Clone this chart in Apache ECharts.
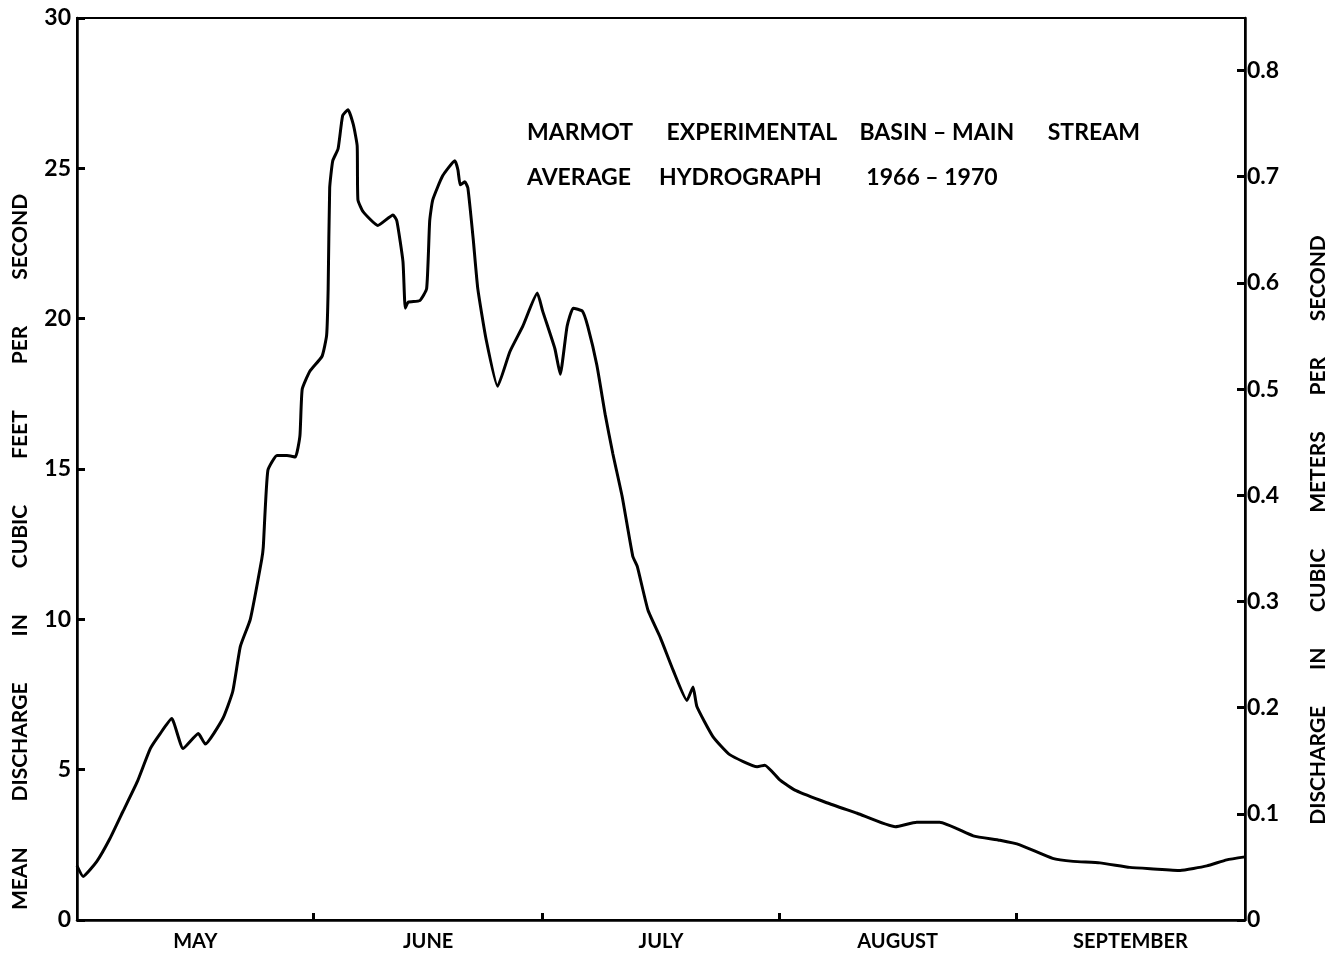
<!DOCTYPE html>
<html>
<head>
<meta charset="utf-8">
<script src="https://cdn.jsdelivr.net/npm/echarts@6/dist/echarts.min.js"></script>
<style>
  html, body { margin: 0; padding: 0; background: #fff; }
  #chart { width: 1340px; height: 966px; }
</style>
</head>
<body>
<div id="chart"></div>
<script>
// day counted from May 1 (0) to end of September (153)
const days = [0, 0.8, 2.6, 4.3, 6.0, 7.9, 9.6, 10.9, 12.4, 13.9, 15.9, 16.8, 19.1, 20.4, 21.4, 22.7, 24.2, 24.4,
  25.0, 26.2, 27.5, 28.6, 29.2, 29.5, 30.5, 32.1, 32.7, 32.9, 33.1, 33.5, 34.2, 34.8, 35.5, 36.2, 36.7, 36.8,
  37.5, 39.4, 41.4, 41.9, 42.7, 43.0, 43.4, 44.9, 45.8, 46.2, 46.6, 47.9, 49.5, 49.9, 50.2, 50.8, 51.2, 51.9,
  52.5, 53.6, 55.1, 56.7, 58.4, 60.3, 61.0, 62.6, 63.3, 64.2, 65.0, 66.2, 66.9, 68.1, 69.2, 70.2, 71.4, 72.8,
  73.4, 74.8, 76.4, 78.1, 79.9, 80.7, 81.2, 83.3, 85.5, 89.1, 90.1, 92.1, 94.2, 98.2, 102.2, 107.2, 110.0,
  113.0, 117.4, 120.9, 123.5, 127.8, 130.5, 134.0, 137.9, 141.0, 144.5, 148.0, 150.6, 153.0];
const cfs = [1.8, 1.45, 1.95, 2.7, 3.6, 4.6, 5.7, 6.2, 6.7, 5.7, 6.2, 5.85, 6.7, 7.6, 9.1, 10.0, 12.0, 12.4,
  14.95, 15.45, 15.45, 15.4, 16.1, 17.65, 18.25, 18.75, 19.45, 21.0, 24.35, 25.25, 25.65, 26.75, 26.95, 26.45, 25.75, 23.95,
  23.55, 23.1, 23.45, 23.25, 21.9, 20.35, 20.55, 20.6, 21.0, 23.25, 23.95, 24.75, 25.25, 24.95, 24.45, 24.55, 24.35, 22.65,
  21.0, 19.3, 17.75, 18.9, 19.75, 20.85, 20.25, 19.0, 18.15, 19.75, 20.35, 20.25, 19.75, 18.45, 16.8, 15.5, 14.1, 12.1,
  11.75, 10.3, 9.4, 8.3, 7.3, 7.75, 7.1, 6.1, 5.5, 5.1, 5.15, 4.65, 4.3, 3.9, 3.55, 3.1, 3.25,
  3.25, 2.8, 2.65, 2.5, 2.05, 1.95, 1.9, 1.75, 1.7, 1.65, 1.8, 2.0, 2.1];
const months = ['MAY', 'JUNE', 'JULY', 'AUGUST', 'SEPTEMBER'];
const monthLengths = [31, 30, 31, 31, 30];
const cfsMax = 30;
const cfsToCms = 0.0283168;

const monthEnds = [];
const monthMids = [];
let acc = 0;
monthLengths.forEach(function (n) {
  monthMids.push(acc + n / 2);
  acc += n;
  monthEnds.push(acc);
});

const font = 'Lato, "DejaVu Sans", sans-serif';
const chart = echarts.init(document.getElementById('chart'));

chart.setOption({
  backgroundColor: '#fff',
  animation: false,
  grid: {
    left: 77, right: 95, top: 18, bottom: 46,
    show: true, borderColor: '#000', borderWidth: 2
  },
  xAxis: {
    type: 'value', min: 0, max: acc,
    axisLine: { lineStyle: { color: '#000', width: 2.5 } },
    splitLine: { show: false },
    axisTick: { inside: true, length: 7, lineStyle: { color: '#000', width: 3 }, customValues: monthEnds.slice(0, -1) },
    axisLabel: {
      customValues: monthMids,
      formatter: function (v) {
        const i = monthMids.findIndex(function (m) { return Math.abs(m - v) < 0.01; });
        return i >= 0 ? months[i] : '';
      },
      color: '#000', fontFamily: font, fontWeight: 'bold', fontSize: 20, margin: 12
    }
  },
  yAxis: [{
    type: 'value', min: 0, max: cfsMax, interval: 5,
    axisLine: { show: true, lineStyle: { color: '#000', width: 2.5 } },
    splitLine: { show: false },
    axisTick: { show: true, inside: true, length: 8, lineStyle: { color: '#000', width: 3 } },
    axisLabel: { color: '#000', fontFamily: font, fontWeight: 'bold', fontSize: 23, margin: 6 }
  }, {
    type: 'value', min: 0, max: cfsMax * cfsToCms, interval: 0.1,
    position: 'right',
    axisLine: { show: true, lineStyle: { color: '#000', width: 2.5 } },
    splitLine: { show: false },
    axisTick: { show: true, inside: true, length: 8, lineStyle: { color: '#000', width: 3 } },
    axisLabel: {
      showMaxLabel: false,
      formatter: function (v) { return v === 0 ? '0' : v.toFixed(1); },
      color: '#000', fontFamily: font, fontWeight: 'bold', fontSize: 23, margin: 2
    }
  }],
  series: [{
    type: 'line',
    yAxisIndex: 0,
    data: days.map(function (d, i) { return [d, cfs[i]]; }),
    showSymbol: false,
    smooth: 0.15,
    lineStyle: { color: '#000', width: 3 }
  }],
  graphic: [{
    type: 'text', left: 527, top: 121,
    style: { text: 'MARMOT      EXPERIMENTAL    BASIN – MAIN      STREAM', fill: '#000', font: 'bold 23px ' + font }
  }, {
    type: 'text', left: 527, top: 166,
    style: { text: 'AVERAGE     HYDROGRAPH        1966 – 1970', fill: '#000', font: 'bold 23px ' + font }
  }, {
    type: 'text', x: 20, y: 552, rotation: Math.PI / 2,
    style: {
      text: 'MEAN         DISCHARGE         IN         CUBIC         FEET         PER         SECOND',
      fill: '#000', font: 'bold 21px ' + font, align: 'center', verticalAlign: 'middle'
    }
  }, {
    type: 'text', x: 1318, y: 530, rotation: Math.PI / 2,
    style: {
      text: 'DISCHARGE       IN       CUBIC       METERS       PER       SECOND',
      fill: '#000', font: 'bold 21px ' + font, align: 'center', verticalAlign: 'middle'
    }
  }]
});
</script>
</body>
</html>
